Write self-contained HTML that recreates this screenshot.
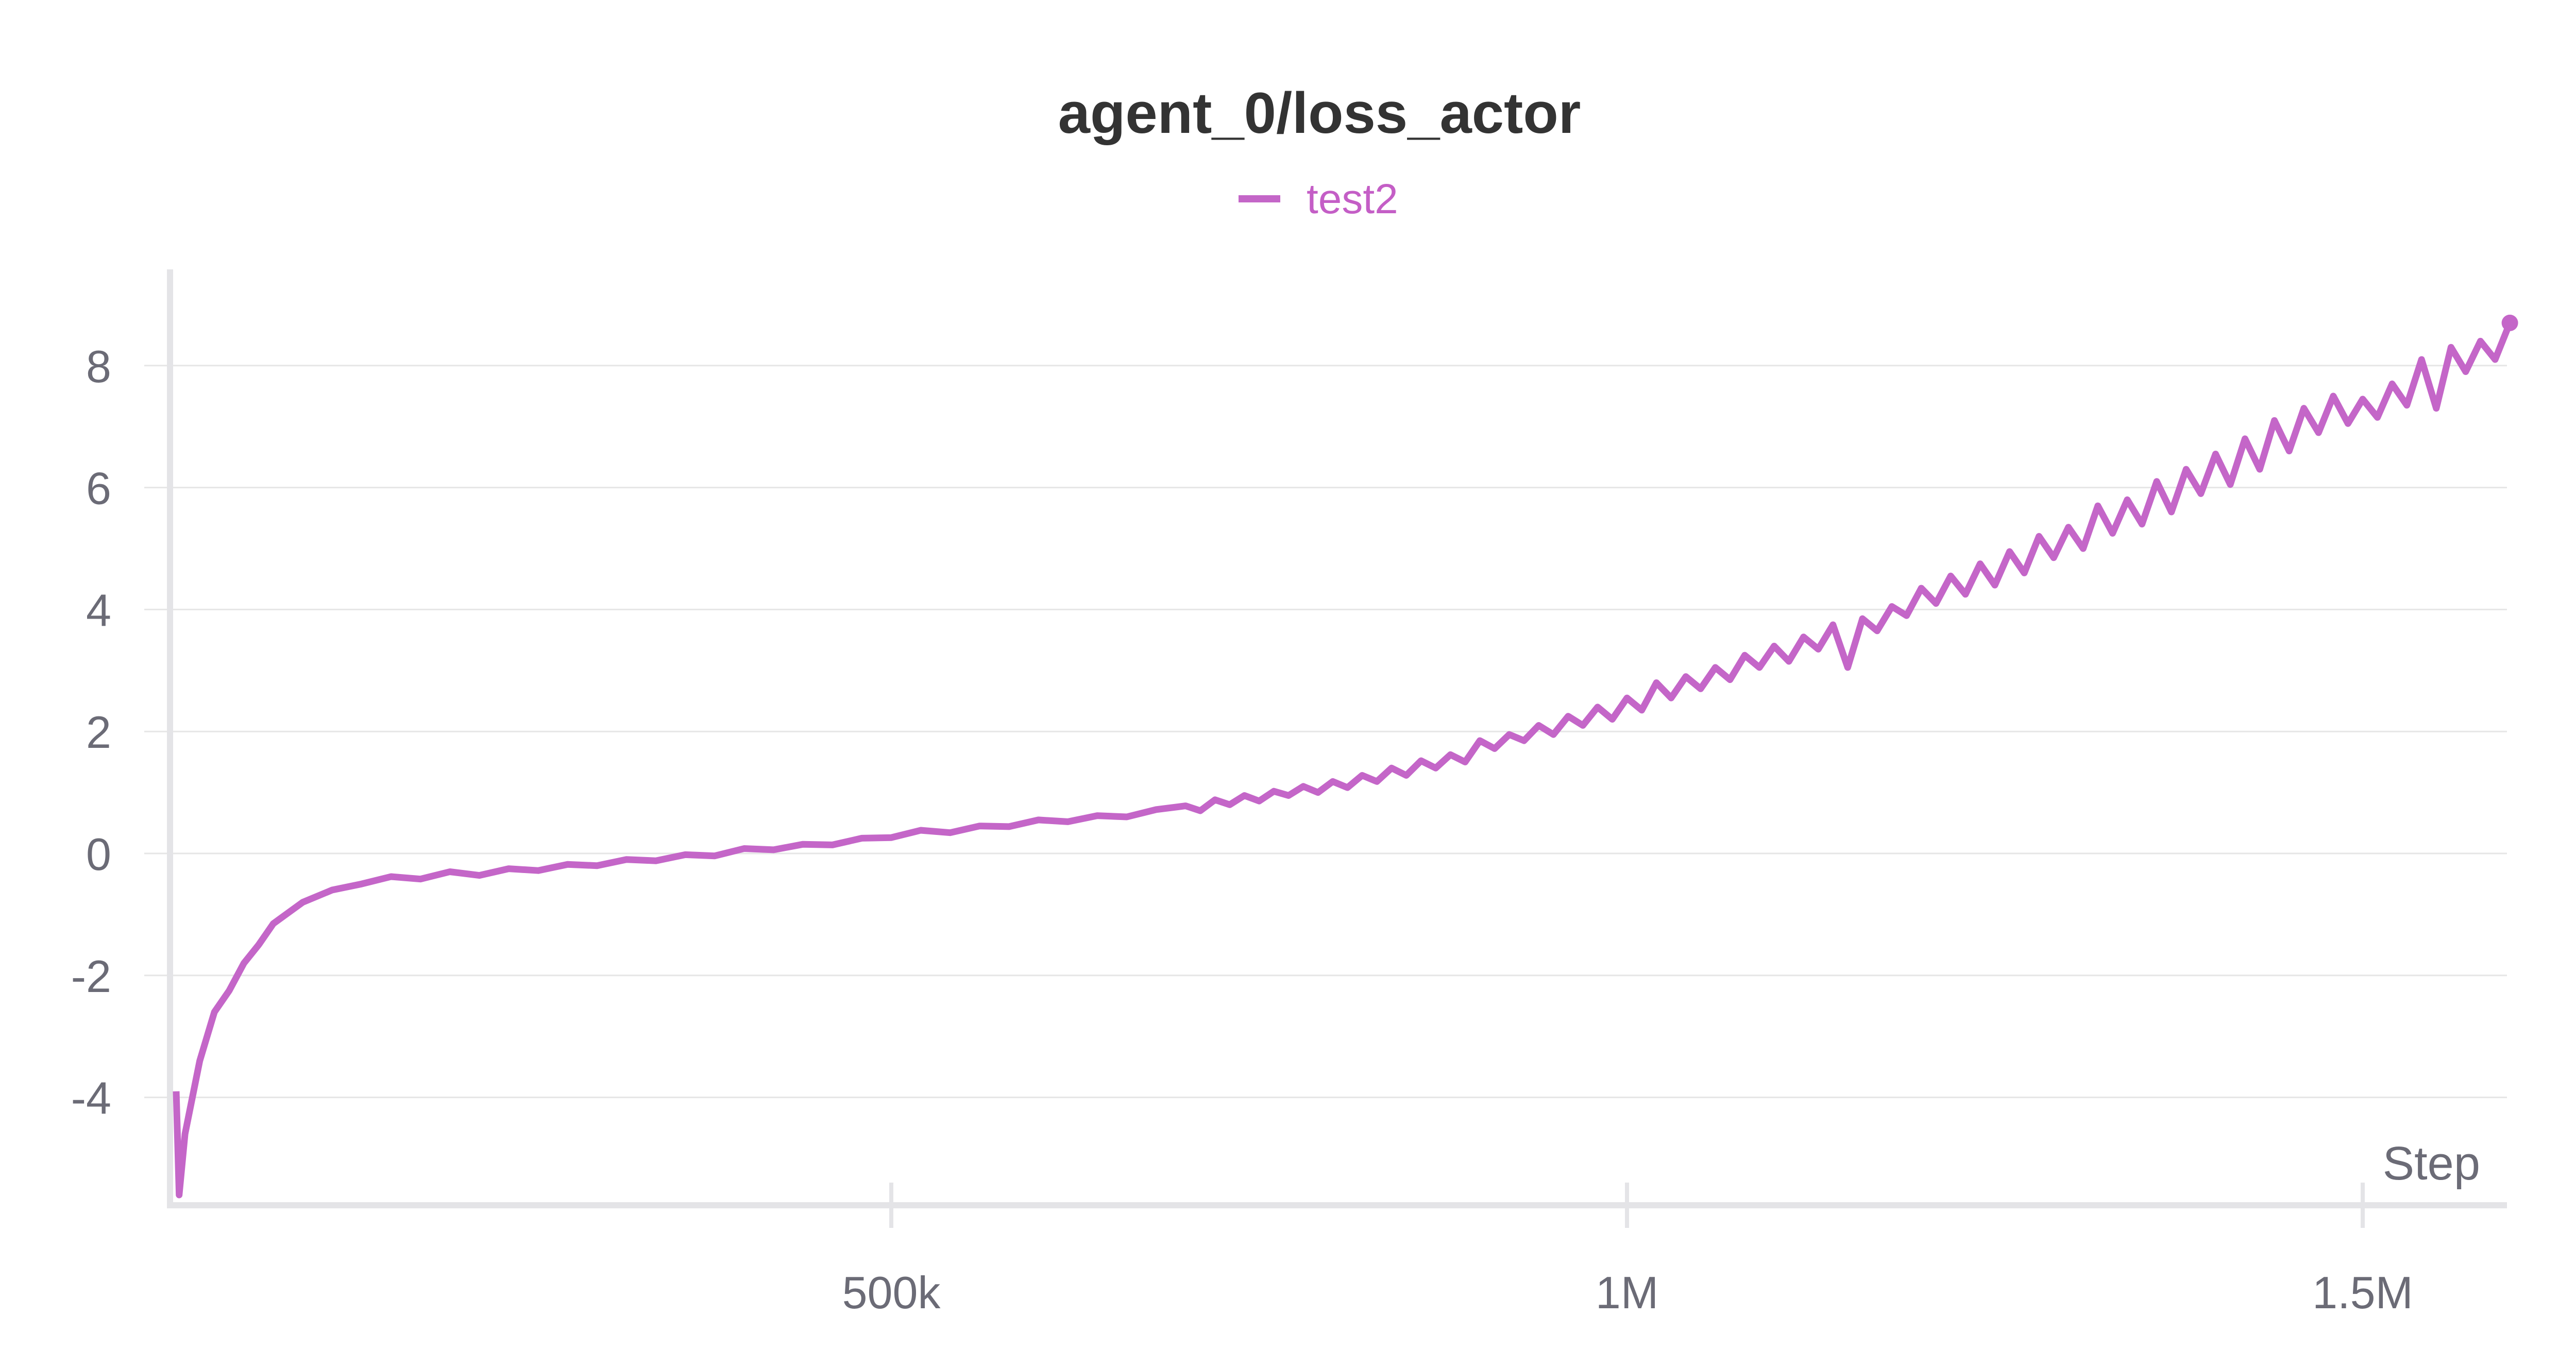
<!DOCTYPE html>
<html><head><meta charset="utf-8"><style>
html,body{margin:0;padding:0;background:#fff;}
svg{display:block;}
text{font-family:"Liberation Sans",sans-serif;}
</style></head><body>
<svg id="chart" width="5056" height="2656" viewBox="0 0 5056 2656" xmlns="http://www.w3.org/2000/svg">
<text x="2561" y="258" text-anchor="middle" font-size="112" font-weight="bold" fill="#333">agent_0/loss_actor</text>
<g>
<line x1="2404" y1="386" x2="2485" y2="386" stroke="#c466c8" stroke-width="14"/>
<text x="2536" y="414" font-size="82" fill="#c45ec6">test2</text>
</g>
<g id="grid"></g>
<g id="axes"></g>
<g id="series"></g>
<text x="4814" y="2290" text-anchor="end" font-size="92" fill="#6b6b76">Step</text>
</svg>
<script>
const stepsK = [14,16,20,30,40,50,60,70,80,100,120,140,160,180,200,220,240,260,280,300,320,340,360,380,400,420,440,460,480,500,520,540,560,580,600,620,640,660,680,700,710,720,730,740,750,760,770,780,790,800,810,820,830,840,850,860,870,880,890,900,910,920,930,940,950,960,970,980,990,1000,1010,1020,1030,1040,1050,1060,1070,1080,1090,1100,1110,1120,1130,1140,1150,1160,1170,1180,1190,1200,1210,1220,1230,1240,1250,1260,1270,1280,1290,1300,1310,1320,1330,1340,1350,1360,1370,1380,1390,1400,1410,1420,1430,1440,1450,1460,1470,1480,1490,1500,1510,1520,1530,1540,1550,1560,1570,1580,1590,1600];
const values = [-3.9,-5.6,-4.6,-3.4,-2.6,-2.25,-1.8,-1.5,-1.15,-0.8,-0.6,-0.5,-0.38,-0.42,-0.3,-0.36,-0.25,-0.28,-0.18,-0.2,-0.1,-0.12,-0.02,-0.04,0.08,0.06,0.15,0.14,0.25,0.26,0.38,0.34,0.45,0.44,0.55,0.52,0.62,0.6,0.72,0.78,0.70,0.88,0.80,0.95,0.86,1.02,0.95,1.10,1.00,1.18,1.08,1.28,1.18,1.40,1.28,1.52,1.40,1.62,1.50,1.85,1.72,1.95,1.85,2.10,1.95,2.25,2.10,2.40,2.20,2.55,2.35,2.80,2.55,2.90,2.70,3.05,2.85,3.25,3.05,3.40,3.15,3.55,3.35,3.75,3.05,3.85,3.65,4.05,3.90,4.35,4.10,4.55,4.25,4.75,4.40,4.95,4.60,5.20,4.85,5.35,5.00,5.70,5.25,5.80,5.40,6.10,5.60,6.30,5.90,6.55,6.05,6.80,6.30,7.10,6.60,7.30,6.90,7.50,7.05,7.45,7.15,7.70,7.35,8.10,7.30,8.30,7.90,8.40,8.10,8.70];
const yTicks = [-4,-2,0,2,4,6,8];
const yTickLabels = ["-4","-2","0","2","4","6","8"];
const xTicks = [500000,1000000,1500000];
const xTickLabels = ["500k","1M","1.5M"];

const NS = "http://www.w3.org/2000/svg";
function xScale(s){ return 302 + s * (1428/500000); }
function yScale(v){ return 1657 - v * 118.4; }
function mk(tag, attrs, parent){
  const el = document.createElementNS(NS, tag);
  for (const k in attrs) el.setAttribute(k, attrs[k]);
  parent.appendChild(el);
  return el;
}
const grid = document.getElementById('grid');
const axes = document.getElementById('axes');
const series = document.getElementById('series');

yTicks.forEach((t,i)=>{
  const y = yScale(t);
  const gl = mk('line',{x1:280,x2:4866,y1:y,y2:y,stroke:'#e6e6e6','stroke-width':3},grid);
  
  
  const tx = mk('text',{x:216,y:y+32,'text-anchor':'end','font-size':88,fill:'#6b6b76'},axes);
  tx.textContent = yTickLabels[i];
  
  
});

const yAxis = mk('line',{x1:330,x2:330,y1:523,y2:2346,stroke:'#e4e4e7','stroke-width':12},axes);


const xAxis = mk('line',{x1:324,x2:4866,y1:2340,y2:2340,stroke:'#e4e4e7','stroke-width':12},axes);



xTicks.forEach((t,i)=>{
  const x = xScale(t);
  const tk = mk('line',{x1:x,x2:x,y1:2296,y2:2384,stroke:'#e4e4e7','stroke-width':8},axes);
  
  
  const tx = mk('text',{x:x,y:2540,'text-anchor':'middle','font-size':88,fill:'#6b6b76'},axes);
  tx.textContent = xTickLabels[i];
  
  
});

let d = '';
stepsK.forEach((s,i)=>{ d += (i? 'L':'M') + xScale(s*1000).toFixed(1) + ' ' + yScale(values[i]).toFixed(1) + ' '; });
const path = mk('path',{d:d,fill:'none',stroke:'#c466c8','stroke-width':13,'stroke-linejoin':'round'},series);


const last = stepsK.length-1;
const dot = mk('circle',{cx:xScale(stepsK[last]*1000),cy:yScale(values[last]),r:16,fill:'#c466c8'},series);


</script>
</body></html>
